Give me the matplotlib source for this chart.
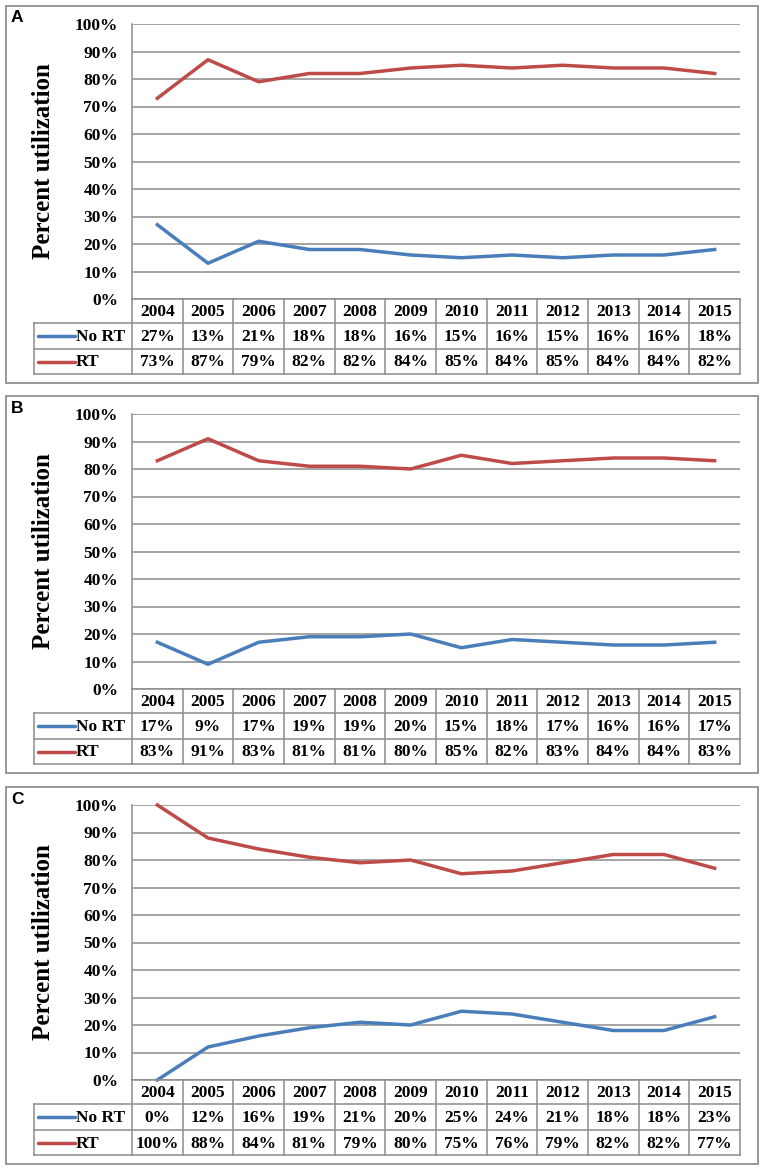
import numpy as np
import matplotlib
matplotlib.use('Agg')
import matplotlib.pyplot as plt
from matplotlib.patches import Rectangle

years = [2004, 2005, 2006, 2007, 2008, 2009, 2010, 2011, 2012, 2013, 2014, 2015]
panel_labels = ['A', 'B', 'C']
series_names = ['No RT', 'RT']

no_rt_a = [27, 13, 21, 18, 18, 16, 15, 16, 15, 16, 16, 18]
rt_a = [73, 87, 79, 82, 82, 84, 85, 84, 85, 84, 84, 82]
no_rt_b = [17, 9, 17, 19, 19, 20, 15, 18, 17, 16, 16, 17]
rt_b = [83, 91, 83, 81, 81, 80, 85, 82, 83, 84, 84, 83]
no_rt_c = [0, 12, 16, 19, 21, 20, 25, 24, 21, 18, 18, 23]
rt_c = [100, 88, 84, 81, 79, 80, 75, 76, 79, 82, 82, 77]

BLUE = '#4a7ebb'
RED = '#be4b48'
GRID = '#8c8c8c'
W, H = 765, 1171
SERIF = ['Liberation Serif', 'DejaVu Serif']


def fig_rect(x0, y0, x1, y1):
    # pixel box (top-left origin) -> figure fraction rect
    return [x0 / W, 1 - y1 / H, (x1 - x0) / W, (y1 - y0) / H]


def draw_panel(fig, top, label, no_rt, rt):
    left, right, tab_left = 132, 740, 34
    y100, y0 = top + 18, top + 293
    rows = [0, 24, 50, 75]

    # outer frame
    fig.add_artist(Rectangle((6 / W, 1 - (top + 377) / H), 752 / W, 377 / H,
                             transform=fig.transFigure, fill=False,
                             edgecolor='#909090', lw=1.3))
    fig.text(11 / W, 1 - (top + 12) / H, label, fontsize=12.5,
             fontweight='bold', family='Liberation Sans', va='center')

    ax = fig.add_axes(fig_rect(left, y100, right, y0))
    x = np.arange(len(years)) + 0.5
    ax.plot(x, no_rt, color=BLUE, lw=2.5, clip_on=False, zorder=3)
    ax.plot(x, rt, color=RED, lw=2.5, clip_on=False, zorder=3)
    ax.set_xlim(0, len(years))
    ax.set_ylim(0, 100)
    ax.set_yticks(range(0, 101, 10))
    ax.set_yticklabels([f'{v}%' for v in range(0, 101, 10)],
                       family=SERIF, fontweight='bold', fontsize=12.5)
    ax.tick_params(axis='y', length=0, pad=10)
    ax.set_xticks([])
    ax.grid(axis='y', color=GRID, lw=1.1)
    ax.set_axisbelow(True)
    for s in ['top', 'right', 'bottom']:
        ax.spines[s].set_visible(False)
    ax.spines['left'].set_color(GRID)
    ax.spines['left'].set_linewidth(1.1)
    ax.set_ylabel('Percent utilization', family=SERIF, fontweight='bold',
                  fontsize=18, va='center')
    ax.yaxis.set_label_coords(-0.146, 0.5)

    # data table below the plot
    col_w = (right - left) / len(years)
    leg_x = -(left - tab_left) / col_w
    tab = fig.add_axes(fig_rect(tab_left, y0, right, y0 + rows[-1]))
    tab.set_xlim(leg_x, len(years))
    tab.set_ylim(rows[-1], 0)
    tab.axis('off')
    kw = dict(color=GRID, lw=1.1, clip_on=False)
    tab.plot([0, len(years)], [0, 0], **kw)
    for r in rows[1:]:
        tab.plot([leg_x, len(years)], [r, r], **kw)
    for i in range(len(years) + 1):
        tab.plot([i, i], [0, rows[-1]], **kw)
    tab.plot([leg_x, leg_x], [rows[1], rows[-1]], **kw)

    tfont = dict(family=SERIF, fontweight='bold', fontsize=12.5,
                 ha='center', va='center')
    for i, yr in enumerate(years):
        tab.text(i + 0.5, (rows[0] + rows[1]) / 2 + 1, str(yr), **tfont)
    for r, (name, vals, col) in enumerate(zip(series_names, [no_rt, rt],
                                               [BLUE, RED])):
        yc = (rows[r + 1] + rows[r + 2]) / 2 + 1
        for i, v in enumerate(vals):
            tab.text(i + 0.5, yc, f'{v}%', **tfont)
        # legend key inside the table
        tab.plot([(38 - left) / col_w, (75 - left) / col_w], [yc - 1, yc - 1],
                 color=col, lw=2.5, solid_capstyle='round')
        tab.text((76 - left) / col_w, yc, name, family=SERIF,
                 fontweight='bold', fontsize=12.5, ha='left', va='center')


def main():
    fig = plt.figure(figsize=(W / 100, H / 100), dpi=100)
    fig.patch.set_facecolor('white')
    data = [(no_rt_a, rt_a), (no_rt_b, rt_b), (no_rt_c, rt_c)]
    for top, label, (nr, r) in zip([6, 396, 787], panel_labels, data):
        draw_panel(fig, top, label, nr, r)
    fig.savefig('out.png', dpi=100)


if __name__ == '__main__':
    main()
